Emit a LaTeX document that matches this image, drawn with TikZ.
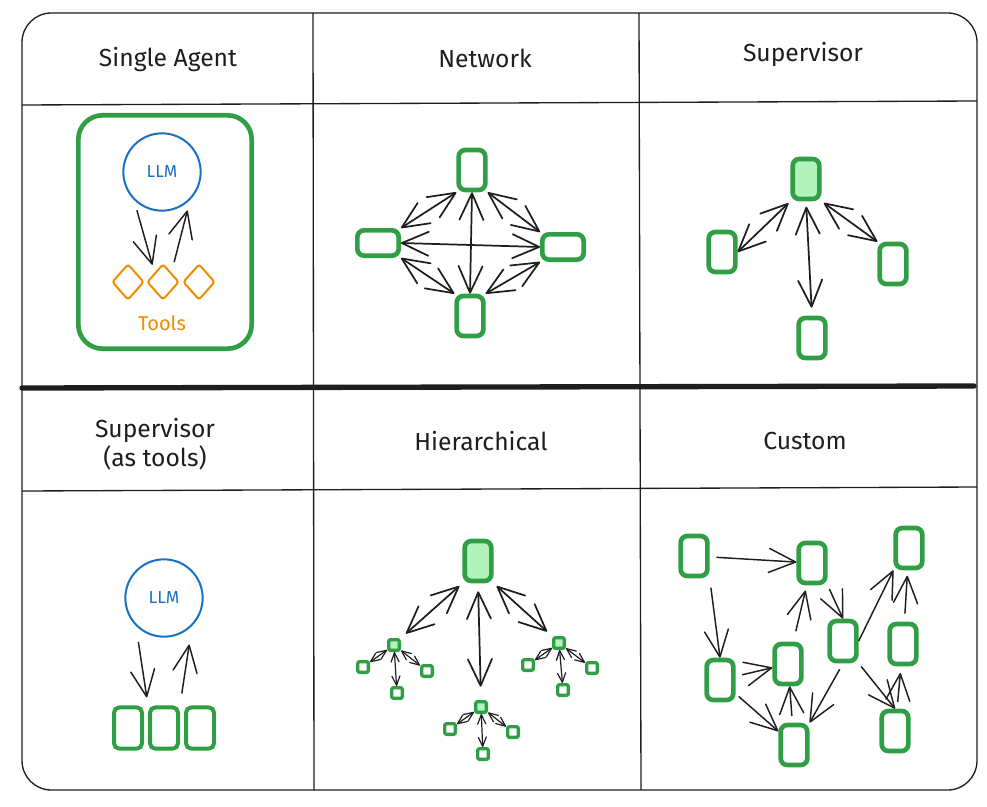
\documentclass[tikz,border=0pt]{standalone}
\usepackage{fontspec}
\setmainfont{Fira Sans}
\usetikzlibrary{arrows.meta,shapes.geometric}

\definecolor{ink}{HTML}{1E1E1E}
\definecolor{agentgreen}{HTML}{2F9E44}
\definecolor{softgreen}{HTML}{B2F2BB}
\definecolor{llmblue}{HTML}{1971C2}
\definecolor{toolorange}{HTML}{F08C00}

\begin{document}
\begin{tikzpicture}
        [x=0.75pt, y=-0.75pt,
         >={Straight Barb[length=20pt,width=18pt,round]},
         agent/.style={draw=agentgreen, line width=3.5pt, rounded corners=5pt,
             minimum width=20pt, minimum height=30pt, inner sep=0pt},
         flat/.style={agent, minimum width=31pt, minimum height=19pt},
         boss/.style={agent, fill=softgreen},
         leaf/.style={draw=agentgreen, line width=2.5pt, rounded corners=1.5pt,
             minimum size=8pt, inner sep=0pt},
         midleaf/.style={leaf, fill=softgreen},
         llm/.style={circle, draw=llmblue, line width=1.5pt, minimum size=58pt,
             inner sep=0pt, text=llmblue, font=\fontsize{13}{15}\selectfont},
         tool/.style={diamond, draw=toolorange, line width=1.5pt, rounded corners=2pt,
             minimum width=24pt, minimum height=27pt, inner sep=0pt},
         head/.style={text=ink, font=\fontsize{18.5}{22}\selectfont, align=center},
         link/.style={->, draw=ink, line width=1.1pt},
         twoway/.style={<->, draw=ink, line width=1.3pt},
         tinylink/.style={<->, draw=ink, line width=0.9pt,
             >={Straight Barb[length=7pt,width=6pt,round]}}]
        \useasboundingbox (0,0) rectangle (987,806);
        % frame and grid
        \draw[ink, line width=1pt, rounded corners=22pt] (22,13) rectangle (977,790);
        \draw[ink, line width=1pt] (313,13) -- (314,790);
        \draw[ink, line width=1pt] (639,13) -- (641,790);
        \draw[ink, line width=1pt] (22,105) -- (977,101);
        \draw[ink, line width=1pt] (22,491) -- (977,487);
        \draw[ink, line width=4pt, line cap=round] (22,388) -- (974,386);
        % headers
        \node[head] (hsingle) at (168,60) {Single Agent};
        \node[head] (hnet) at (485,58) {Network};
        \node[head] (hsup) at (803,55) {Supervisor};
        \node[head] (hsuptools) at (155,444) {Supervisor\\(as tools)};
        \node[head] (hhier) at (481,441) {Hierarchical};
        \node[head] (hcustom) at (805,441) {Custom};

        % single agent
        \node[draw=agentgreen, line width=3.5pt, rounded corners=18pt,
            minimum width=130pt, minimum height=175pt] (agentbox) at (165,232) {};
        \node[llm] (llm1) at (162,172) {LLM};
        \foreach \i/\x in {1/128, 2/163, 3/199}
            \node[tool] (tool\i) at (\x,282) {};
        \node[text=toolorange, font=\fontsize{15}{18}\selectfont] (toolslabel) at (162,323) {Tools};
        \draw[link, shorten <=8pt, shorten >=6pt] (llm1.south west) -- (tool2.north west);
        \draw[link, shorten <=8pt, shorten >=8pt] (tool2.north east) -- (llm1.south east);

        % network
        \node[agent] (ntop) at (472,170) {};
        \node[flat] (nleft) at (378,243) {};
        \node[flat] (nright) at (563,247) {};
        \node[agent] (nbottom) at (470,316) {};
        \draw[twoway] (ntop.south west) -- (nleft.north east);
        \draw[twoway] (ntop.south east) -- (nright.north west);
        \draw[twoway] (nleft.south east) -- (nbottom.north west);
        \draw[twoway] (nright.south west) -- (nbottom.north east);
        \draw[twoway] (ntop.south) -- (nbottom.north);
        \draw[twoway] (nleft.east) -- (nright.west);

        % supervisor
        \node[boss] (sup) at (806,179) {};
        \node[agent] (sleft) at (722,252) {};
        \node[agent] (sright) at (893,264) {};
        \node[agent] (sbottom) at (812,338) {};
        \draw[twoway, shorten <=2pt] (sup.south west) -- (sleft.east);
        \draw[twoway, shorten <=2pt] (sup.south east) -- (sright.north west);
        \draw[twoway, shorten <=4pt, shorten >=6pt] (sup.south) -- (sbottom.north);

        % supervisor (as tools)
        \node[llm] (llm2) at (164,598) {LLM};
        \foreach \i/\x in {1/128, 2/164, 3/200}
            \node[agent, line width=3pt, minimum width=21pt, minimum height=31pt,
                rounded corners=4pt] (box\i) at (\x,728) {};
        \draw[link, shorten <=12pt, shorten >=6pt] (llm2.south west) -- (box2.north west);
        \draw[link, shorten <=9pt, shorten >=14pt] (box2.north east) -- (llm2.south east);

        % hierarchical
        \node[boss] (htop) at (478,561) {};
        \node[midleaf] (hl) at (394,645) {};
        \node[midleaf] (hm) at (481,707) {};
        \node[midleaf] (hr) at (559,643) {};
        \node[leaf] (hl1) at (363,667) {};
        \node[leaf] (hl2) at (397,693) {};
        \node[leaf] (hl3) at (427,671) {};
        \node[leaf] (hm1) at (450,729) {};
        \node[leaf] (hm2) at (483,754) {};
        \node[leaf] (hm3) at (513,732) {};
        \node[leaf] (hr1) at (528,665) {};
        \node[leaf] (hr2) at (563,690) {};
        \node[leaf] (hr3) at (592,668) {};
        \draw[twoway, shorten <=3pt, shorten >=5pt] (htop.south west) -- (hl.north east);
        \draw[twoway, shorten <=6pt, shorten >=10pt] (htop.south) -- (hm.north);
        \draw[twoway, shorten <=3pt, shorten >=5pt] (htop.south east) -- (hr.north west);
        \foreach \g in {hl,hm,hr}
            \foreach \k in {1,2,3}
                \draw[tinylink] (\g) -- (\g\k);

        % custom
        \node[agent] (ca) at (694,556) {};
        \node[agent] (cb) at (812,563) {};
        \node[agent] (cc) at (909,548) {};
        \node[agent] (cd) at (720,680) {};
        \node[agent] (ce) at (788,664) {};
        \node[agent] (cf) at (843,641) {};
        \node[agent] (cg) at (903,644) {};
        \node[agent] (ch) at (794,745) {};
        \node[agent] (ci) at (895,731) {};
        \draw[link, shorten <=5pt] (ca) -- (cb);
        \draw[link, shorten <=7pt] (ca.south east) -- (cd.north);
        \draw[link, shorten <=5pt] (cd) -- (ce);
        \draw[link, shorten <=3pt] (cd) -- (ch);
        \draw[link, shorten <=8pt, shorten >=4pt] (ce) -- (cb);
        \draw[link, shorten <=5pt] (ch) -- (ce);
        \draw[link, shorten <=3pt] (cb.south east) -- (cf.north);
        \draw[link] (cf.east) -- (cc.south west);
        \draw[link, shorten <=5pt] (cf.south) -- (ch.north east);
        \draw[link, shorten <=3pt] (cf.south east) -- (ci.north);
        \draw[link, shorten <=5pt, shorten >=5pt] (ci) -- (cg);
        \draw[link, shorten <=6pt, shorten >=4pt] (cg) -- (cc);
\end{tikzpicture}
\end{document}
